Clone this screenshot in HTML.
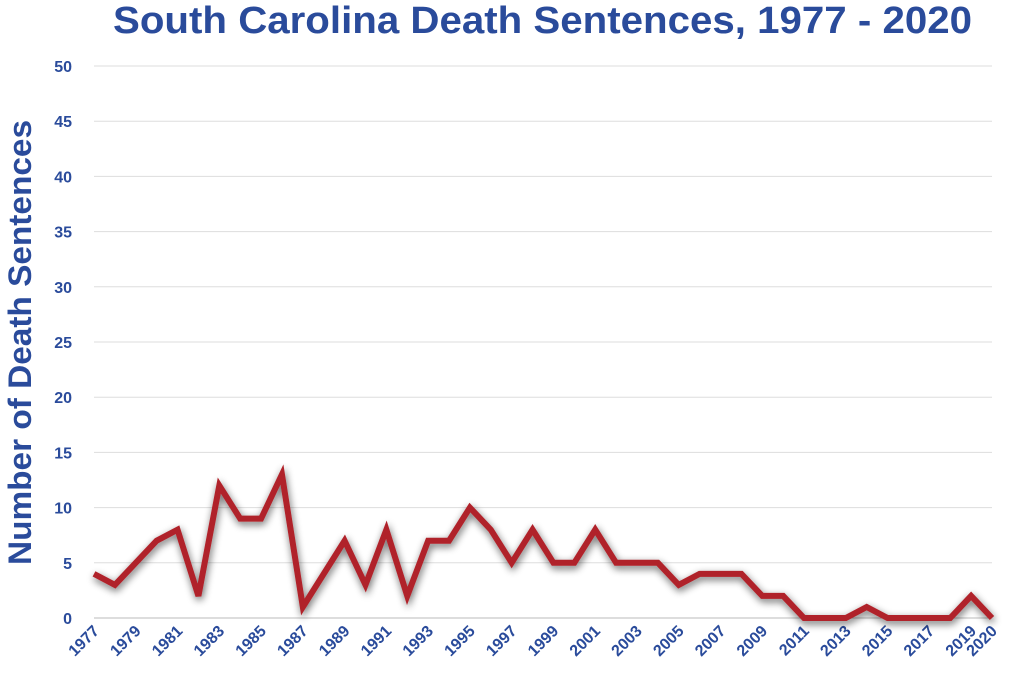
<!DOCTYPE html>
<html><head><meta charset="utf-8"><style>
body{margin:0;background:#fff;width:1024px;height:678px;overflow:hidden;font-family:"Liberation Sans",sans-serif}
</style></head><body>
<svg id="chart" width="1024" height="678" xmlns="http://www.w3.org/2000/svg">
<defs><filter id="sh" x="-10%" y="-10%" width="120%" height="130%"><feGaussianBlur in="SourceAlpha" stdDeviation="4"/><feOffset dx="1" dy="3"/><feComponentTransfer><feFuncA type="linear" slope="0.6"/></feComponentTransfer><feMerge><feMergeNode/><feMergeNode in="SourceGraphic"/></feMerge></filter></defs>
<text x="113" y="33" textLength="859" lengthAdjust="spacingAndGlyphs" font-size="38" font-weight="bold" fill="#2a4b9b">South Carolina Death Sentences, 1977 - 2020</text>
<text transform="translate(31,565) rotate(-90)" textLength="445" lengthAdjust="spacingAndGlyphs" font-size="32" font-weight="bold" fill="#2a4b9b">Number of Death Sentences</text>
<g id="grid"></g><g id="yt"></g><g id="xt"></g><g id="ln"></g>
</svg>
<script>
const years=[];for(let y=1977;y<=2020;y++)years.push(y);
const values=[4,3,5,7,8,2,12,9,9,13,1,4,7,3,8,2,7,7,10,8,5,8,5,5,8,5,5,5,3,4,4,4,2,2,0,0,0,1,0,0,0,0,2,0];
const yTicks=[0,5,10,15,20,25,30,35,40,45,50];
const xLabels=[1977,1979,1981,1983,1985,1987,1989,1991,1993,1995,1997,1999,2001,2003,2005,2007,2009,2011,2013,2015,2017,2019,2020];
const NS="http://www.w3.org/2000/svg";
const x=yr=>94+(yr-1977)*(992-94)/(2020-1977);
const y=v=>618-v*(618-66)/50;
function mk(t,a,p){const e=document.createElementNS(NS,t);for(const k in a)e.setAttribute(k,a[k]);document.getElementById(p).appendChild(e);return e;}
yTicks.forEach(v=>{
 const l=mk('line',{x1:94,x2:992,y1:y(v),y2:y(v),stroke:v===0?'#bbb':'#ddd','stroke-width':1},'grid');
 
 
 const t=mk('text',{x:72,y:y(v)+6,'text-anchor':'end','font-size':16,'font-weight':'bold',fill:'#2a4b9b'},'yt');
 t.textContent=v;
 
 
});
xLabels.forEach(yr=>{
 const t=mk('text',{transform:`translate(${x(yr)+6},${632}) rotate(-45)`,'text-anchor':'end','font-size':16,'font-weight':'bold',fill:'#2a4b9b'},'xt');
 t.textContent=yr;
 
 
});
const p=mk('polyline',{points:values.map((v,i)=>x(years[i])+','+y(v)).join(' '),fill:'none',stroke:'#b0232a','stroke-width':6,'stroke-linejoin':'miter',filter:'url(#sh)'},'ln');


</script>
</body></html>
